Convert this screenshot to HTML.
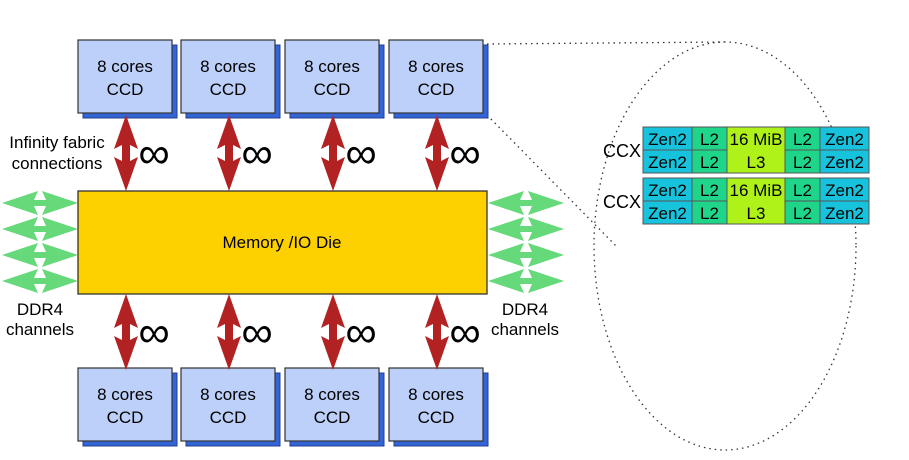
<!DOCTYPE html>
<html><head><meta charset="utf-8"><style>body{margin:0;background:#fff}svg{display:block}</style></head><body>
<svg width="909" height="460" viewBox="0 0 909 460" font-family="Liberation Sans, sans-serif">
<defs>
<g id="ccd">
<rect x="5" y="5" width="94" height="73" fill="#3465d6" stroke="#1f3f8f" stroke-width="1"/>
<rect x="0" y="0" width="94" height="73" fill="#bcd0fa" stroke="#333" stroke-width="1.2"/>
<text x="47" y="32" font-size="17" text-anchor="middle">8 cores</text>
<text x="47" y="55" font-size="17" text-anchor="middle">CCD</text>
</g>
<path id="red" d="M0,0 L-12,34 L-4,30 L-4,46 L-12,42 L0,76 L12,42 L4,46 L4,30 L12,34 Z" fill="#b22222"/>
<path id="grn" d="M0,0 L36,-12 L32,-3 L44,-3 L40,-12 L76,0 L40,12 L44,3 L32,3 L36,12 Z" fill="#66d97a"/>
<g id="ccx">
<rect x="0" y="0" width="49" height="23" fill="#17c3dc" stroke="#555"/>
<rect x="0" y="23" width="49" height="23" fill="#17c3dc" stroke="#555"/>
<rect x="49" y="0" width="35" height="23" fill="#1fd58a" stroke="#555"/>
<rect x="49" y="23" width="35" height="23" fill="#1fd58a" stroke="#555"/>
<rect x="84" y="0" width="58" height="46" fill="#aef21a" stroke="#555"/>
<rect x="142" y="0" width="35" height="23" fill="#1fd58a" stroke="#555"/>
<rect x="142" y="23" width="35" height="23" fill="#1fd58a" stroke="#555"/>
<rect x="177" y="0" width="49" height="23" fill="#17c3dc" stroke="#555"/>
<rect x="177" y="23" width="49" height="23" fill="#17c3dc" stroke="#555"/>
<g font-size="17" text-anchor="middle">
<text x="24.5" y="18">Zen2</text><text x="24.5" y="41">Zen2</text>
<text x="66.5" y="18">L2</text><text x="66.5" y="41">L2</text>
<text x="113" y="18">16 MiB</text><text x="113" y="41">L3</text>
<text x="159.5" y="18">L2</text><text x="159.5" y="41">L2</text>
<text x="201.5" y="18">Zen2</text><text x="201.5" y="41">Zen2</text>
</g>
<text x="-2" y="30" font-size="18" text-anchor="end">CCX</text>
</g>
</defs>
<g stroke="#333" stroke-width="1.3" stroke-dasharray="1.5,4" fill="none">
<line x1="487" y1="44" x2="726" y2="42"/>
<line x1="487" y1="115" x2="618" y2="248"/>
<ellipse cx="725" cy="246" rx="131" ry="204"/>
</g>
<use href="#ccd" x="78" y="40"/><use href="#ccd" x="181" y="40"/><use href="#ccd" x="285" y="40"/><use href="#ccd" x="389" y="40"/>
<use href="#ccd" x="78" y="368"/><use href="#ccd" x="181" y="368"/><use href="#ccd" x="285" y="368"/><use href="#ccd" x="389" y="368"/>
<use href="#red" x="126" y="115"/><use href="#red" x="229" y="115"/><use href="#red" x="333" y="115"/><use href="#red" x="437" y="115"/>
<use href="#red" x="126" y="294"/><use href="#red" x="229" y="294"/><use href="#red" x="333" y="294"/><use href="#red" x="437" y="294"/>
<g font-size="44" text-anchor="middle">
<text x="154" y="168">∞</text><text x="257" y="168">∞</text><text x="361" y="168">∞</text><text x="465" y="168">∞</text>
<text x="154" y="347">∞</text><text x="257" y="347">∞</text><text x="361" y="347">∞</text><text x="465" y="347">∞</text>
</g>
<rect x="78" y="191" width="409" height="103" fill="#fdd000" stroke="#333" stroke-width="1.3"/>
<text x="282" y="248" font-size="17" text-anchor="middle">Memory /IO Die</text>
<use href="#grn" x="2" y="203"/><use href="#grn" x="2" y="229"/><use href="#grn" x="2" y="255"/><use href="#grn" x="2" y="281"/>
<use href="#grn" x="488" y="203"/><use href="#grn" x="488" y="229"/><use href="#grn" x="488" y="255"/><use href="#grn" x="488" y="281"/>
<g font-size="17" text-anchor="middle">
<text x="57" y="148">Infinity fabric</text><text x="57" y="169">connections</text>
<text x="40" y="315">DDR4</text><text x="40" y="335">channels</text>
<text x="525" y="315">DDR4</text><text x="525" y="335">channels</text>
</g>
<use href="#ccx" x="643" y="127"/>
<use href="#ccx" x="643" y="178"/>
</svg>
</body></html>
